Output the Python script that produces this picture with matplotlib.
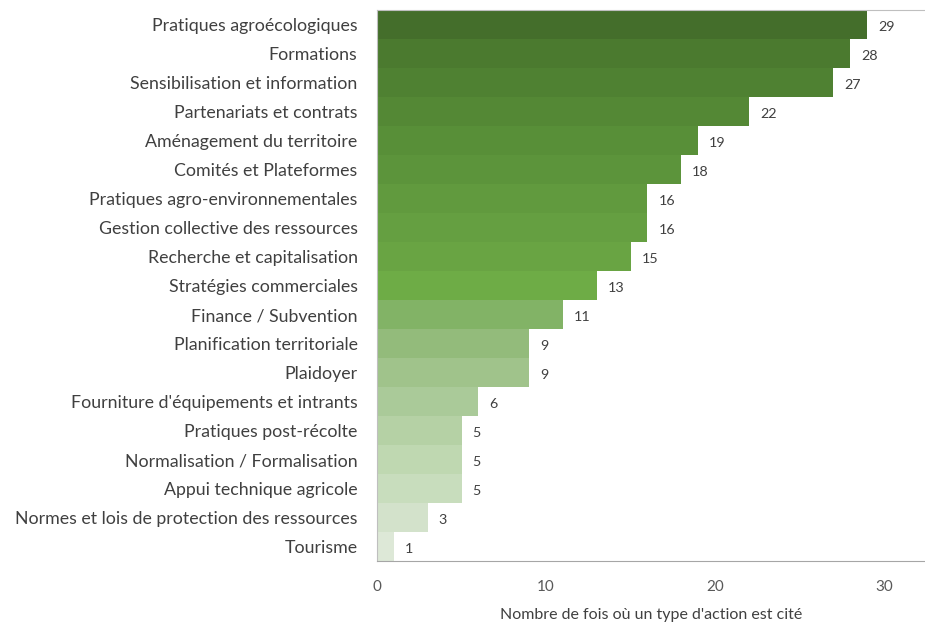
import matplotlib.pyplot as plt

categories = [
    "Pratiques agroécologiques",
    "Formations",
    "Sensibilisation et information",
    "Partenariats et contrats",
    "Aménagement du territoire",
    "Comités et Plateformes",
    "Pratiques agro-environnementales",
    "Gestion collective des ressources",
    "Recherche et capitalisation",
    "Stratégies commerciales",
    "Finance / Subvention",
    "Planification territoriale",
    "Plaidoyer",
    "Fourniture d'équipements et intrants",
    "Pratiques post-récolte",
    "Normalisation / Formalisation",
    "Appui technique agricole",
    "Normes et lois de protection des ressources",
    "Tourisme",
]
counts = [29, 28, 27, 22, 19, 18, 16, 16, 15, 13, 11, 9, 9, 6, 5, 5, 5, 3, 1]
colors = [
    "#446E2B", "#4B7A2F", "#4F8132", "#548835", "#588F38", "#5C943B",
    "#619A3E", "#659F41", "#69A443", "#6EAC46", "#82B366", "#93BB7B",
    "#A0C38B", "#AACA99", "#B5D1A5", "#BFD8B1", "#C8DDBD", "#D3E2CB",
    "#DDE8D7",
]

plt.rcParams['font.family'] = ['Lato', 'DejaVu Sans']

fig = plt.figure(figsize=(9.25, 6.22), dpi=100)
ax = fig.add_axes([0.4076, 0.098, 0.592, 0.886])

y = list(range(len(categories)))
ax.barh(y, counts, height=1.0, color=colors)
ax.set_ylim(len(categories) - 0.5, -0.5)
ax.set_xlim(0, 32.4)

for yi, c in zip(y, counts):
    ax.text(c + 0.65, yi + 0.08, str(c), va='center', ha='left',
            fontsize=10.3, color='#404040')

ax.set_yticks(y)
ax.set_yticklabels(categories, fontsize=12.8, color='#404040')
ax.set_xticks([0, 10, 20, 30])
ax.tick_params(axis='y', length=0, pad=14)
ax.tick_params(axis='x', length=0, pad=14, labelsize=11, labelcolor='#595959')
ax.set_xlabel("Nombre de fois où un type d'action est cité",
              fontsize=11.5, color='#404040', labelpad=10)

for s in ['top', 'left']:
    ax.spines[s].set_color('#BFBFBF')
ax.spines['bottom'].set_color('#A6A6A6')
ax.spines['right'].set_visible(False)

fig.savefig('out.png', dpi=100)
